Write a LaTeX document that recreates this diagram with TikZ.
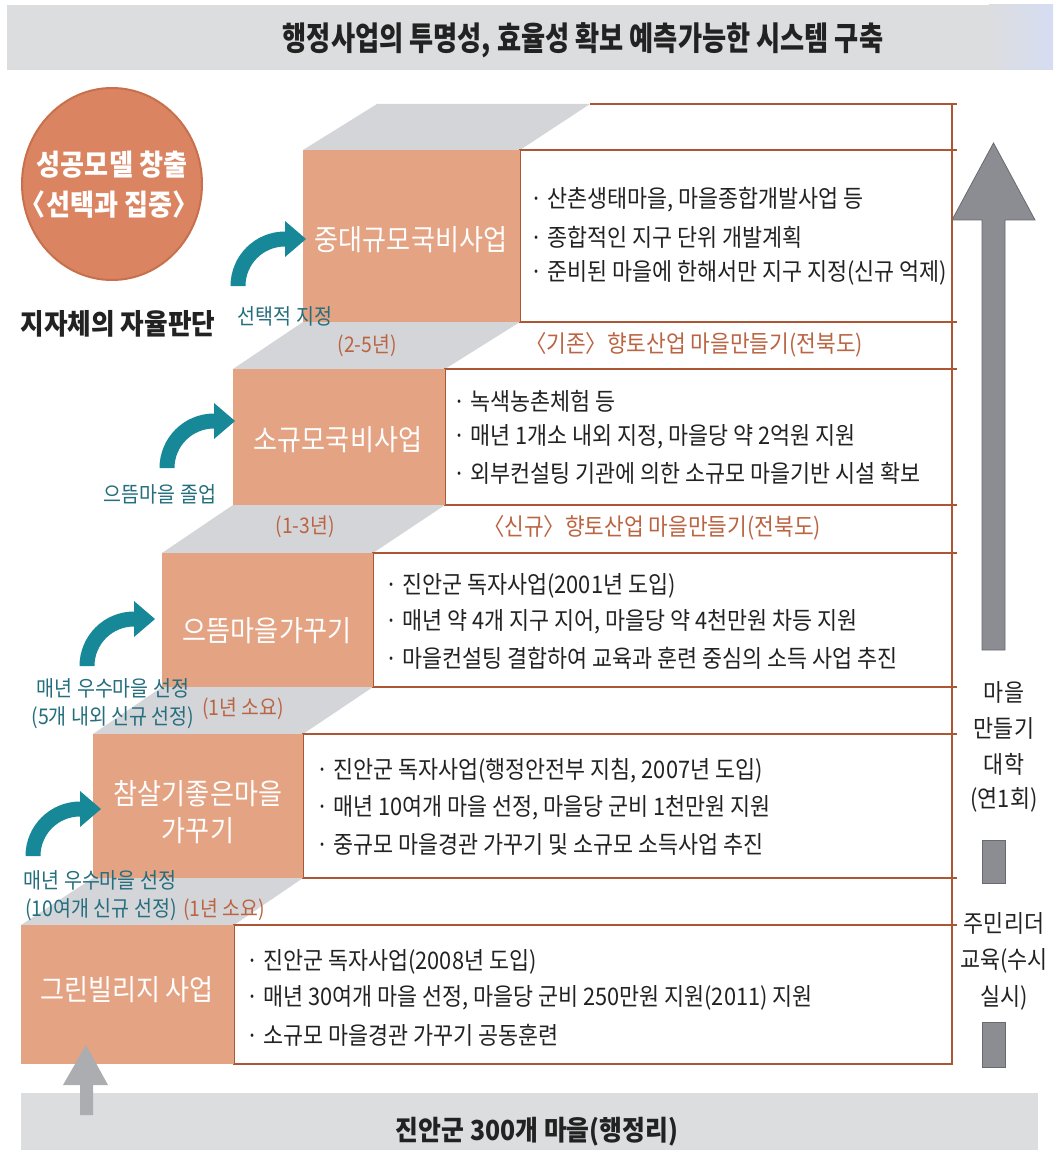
\documentclass[tikz,border=0pt]{standalone}
\usepackage{fontspec}
\setmainfont{Noto Sans CJK KR}[FakeStretch=0.9]
\newfontfamily\titlefont{Noto Sans CJK KR}[FakeStretch=0.8]
\definecolor{boxor}{RGB}{228,163,131}
\definecolor{stepgray}{RGB}{212,213,216}
\definecolor{brline}{RGB}{172,86,52}
\definecolor{brtext}{RGB}{186,100,66}
\definecolor{tealarr}{RGB}{22,136,152}
\definecolor{tealtext}{RGB}{36,110,126}
\definecolor{circfill}{RGB}{218,132,97}
\definecolor{circedge}{RGB}{200,112,78}
\definecolor{banner}{RGB}{220,221,223}
\definecolor{bigarrow}{RGB}{140,141,146}
\definecolor{bigedge}{RGB}{105,106,110}
\definecolor{smallarrow}{RGB}{172,173,177}
\definecolor{txt}{RGB}{34,34,34}
\newcommand\curvedarrow[2]{%
  \begin{scope}[shift={(#1,#2)},yscale=-1]
    \fill[tealarr] (-7.5,0) arc[start angle=180,end angle=90,radius=54.5]
      -- (47,65) -- (68,47) -- (47,29) -- (47,39.5)
      arc[start angle=90,end angle=180,radius=39.5] -- cycle;
  \end{scope}}
\tikzset{
  bodytxt/.style={anchor=west, inner sep=0pt, text=txt, font=\fontsize{24.2}{26}\selectfont},
  boxlabel/.style={inner sep=0pt, text=white, align=center, font=\fontsize{29}{37}\selectfont},
  tealtxt/.style={inner sep=0pt, text=tealtext, font=\fontsize{21.7}{24}\selectfont},
  browntxt/.style={inner sep=0pt, text=brtext, font=\fontsize{21.5}{24}\selectfont},
  brownlong/.style={inner sep=0pt, text=brtext, font=\fontsize{23.8}{26}\selectfont},
  sidetxt/.style={inner sep=0pt, text=txt, font=\fontsize{24.2}{26}\selectfont},
  stepbox/.style={fill=boxor},
  stepshade/.style={fill=stepgray},
  infobox/.style={draw=brline, line width=1.4pt, fill=white},
  brownrule/.style={draw=brline, line width=1.4pt}
}
\begin{document}
\begin{tikzpicture}[x=1pt,y=-1pt]
\useasboundingbox (0,0) rectangle (1053,1150);
% top banner
\fill[banner] (7,5) rectangle (990,70);
\shade[left color=banner, right color={rgb,255:red,214;green,221;blue,243}] (989,5) rectangle (1053,70);
\node[inner sep=0pt, text=txt, font=\titlefont\bfseries\fontsize{32.8}{34}\selectfont] (title) at (583,40) {행정사업의 투명성, 효율성 확보 예측가능한 시스템 구축};
% bottom banner
\fill[banner] (21,1093) rectangle (1038,1150);
\node[inner sep=0pt, text=txt, font=\bfseries\fontsize{27.6}{30}\selectfont] (base) at (537,1132) {진안군 300개 마을(행정리)};
% gray step tops
\fill[stepshade] (303,150) -- (520,150) -- (590,104) -- (377,104) -- cycle;
\fill[stepshade] (233,369) -- (445,369) -- (520,322) -- (303,322) -- cycle;
\fill[stepshade] (162,553) -- (373,553) -- (445,505) -- (233,505) -- cycle;
\fill[stepshade] (93,734) -- (303,734) -- (373,687) -- (162,687) -- cycle;
\fill[stepshade] (21,925) -- (234,925) -- (303,878) -- (93,878) -- cycle;
% info boxes
\draw[infobox] (520,150) rectangle (952,322);
\draw[infobox] (445,369) rectangle (952,505);
\draw[infobox] (373,553) rectangle (952,687);
\draw[infobox] (303,734) rectangle (952,878);
\draw[infobox] (234,925) rectangle (952,1064);
\draw[brownrule] (590,104) -- (957,104);
\draw[brownrule] (952,104) -- (952,1064);
\foreach \yy in {150,322,369,505,553,687,734,878,925} {\draw[brownrule] (948,\yy) -- (957,\yy);}
% orange step boxes
\fill[stepbox] (303,150) rectangle (520,322);
\fill[stepbox] (233,369) rectangle (445,505);
\fill[stepbox] (162,553) rectangle (373,687);
\fill[stepbox] (93,734) rectangle (303,878);
\fill[stepbox] (21,925) rectangle (234,1064);
\node[boxlabel] (b5) at (411,240) {중대규모국비사업};
\node[boxlabel] (b4) at (338,440) {소규모국비사업};
\node[boxlabel] (b3) at (267,631) {으뜸마을가꾸기};
\node[boxlabel] (b2) at (198,812) {참살기좋은마을\\가꾸기};
\node[boxlabel] (b1) at (127,990) {그린빌리지 사업};
% body texts
\node[bodytxt] (t51) at (530,200) {· 산촌생태마을, 마을종합개발사업 등};
\node[bodytxt] (t52) at (530,237) {· 종합적인 지구 단위 개발계획};
\node[bodytxt] (t53) at (530,273) {· 준비된 마을에 한해서만 지구 지정(신규 억제)};
\node[bodytxt] (t41) at (453,401) {· 녹색농촌체험 등};
\node[bodytxt] (t42) at (453,437) {· 매년 1개소 내외 지정, 마을당 약 2억원 지원};
\node[bodytxt] (t43) at (453,473) {· 외부컨설팅 기관에 의한 소규모 마을기반 시설 확보};
\node[bodytxt] (t31) at (385,586) {· 진안군 독자사업(2001년 도입)};
\node[bodytxt] (t32) at (385,622) {· 매년 약 4개 지구 지어, 마을당 약 4천만원 차등 지원};
\node[bodytxt] (t33) at (385,658) {· 마을컨설팅 결합하여 교육과 훈련 중심의 소득 사업 추진};
\node[bodytxt] (t21) at (316,771) {· 진안군 독자사업(행정안전부 지침, 2007년 도입)};
\node[bodytxt] (t22) at (316,808) {· 매년 10여개 마을 선정, 마을당 군비 1천만원 지원};
\node[bodytxt] (t23) at (316,844) {· 중규모 마을경관 가꾸기 및 소규모 소득사업 추진};
\node[bodytxt] (t11) at (246,962) {· 진안군 독자사업(2008년 도입)};
\node[bodytxt] (t12) at (246,998) {· 매년 30여개 마을 선정, 마을당 군비 250만원 지원(2011) 지원};
\node[bodytxt] (t13) at (246,1035) {· 소규모 마을경관 가꾸기 공동훈련};
% brown labels
\node[browntxt] (y5) at (367,346) {(2-5년)};
\node[brownlong] (old) at (694,345) {〈기존〉향토산업 마을만들기(전북도)};
\node[browntxt] (y4) at (305,527) {(1-3년)};
\node[brownlong] (new) at (652,528) {〈신규〉향토산업 마을만들기(전북도)};
\node[browntxt] (y3) at (243,709) {(1년 소요)};
\node[browntxt] (y2) at (224,910) {(1년 소요)};
% circle
\draw[fill=circfill, draw=circedge, line width=2pt] (112,184) ellipse [x radius=90, y radius=96];
\node[inner sep=0pt, text=white, align=center, font=\bfseries\fontsize{29}{40}\selectfont] (goal) at (112,185) {성공모델 창출\\\kern-0.2em〈선택과 집중〉};
\node[inner sep=0pt, text=txt, font=\bfseries\fontsize{28.5}{30}\selectfont] (auto) at (118,324) {지자체의 자율판단};
% teal curved arrows
\curvedarrow{238}{286}
\curvedarrow{167}{468}
\curvedarrow{87}{666}
\curvedarrow{33}{856}
% teal labels
\node[tealtxt] (s5) at (285,316) {선택적 지정};
\node[tealtxt] (s4) at (160,494) {으뜸마을 졸업};
\node[tealtxt] (s3a) at (113,688) {매년 우수마을 선정};
\node[tealtxt] (s3b) at (113,718) {(5개 내외 신규 선정)};
\node[tealtxt] (s2a) at (100,880) {매년 우수마을 선정};
\node[tealtxt] (s2b) at (101,910) {(10여개 신규 선정)};
% small gray up arrow
\fill[smallarrow] (80,1115) -- (80,1085) -- (63,1085) -- (86,1045) -- (108,1085) -- (93,1085) -- (93,1115) -- cycle;
% big right arrow
\filldraw[fill=bigarrow, draw=bigedge, line width=0.8pt] (982,650) -- (982,220) -- (952,220) -- (993.5,143) -- (1035,220) -- (1005,220) -- (1005,650) -- cycle;
\filldraw[fill=bigarrow, draw=bigedge, line width=0.8pt] (982,840) rectangle (1005,883);
\filldraw[fill=bigarrow, draw=bigedge, line width=0.8pt] (982,1022) rectangle (1005,1067);
\node[sidetxt] (u1) at (1004,692) {마을};
\node[sidetxt] (u2) at (1004,728) {만들기};
\node[sidetxt] (u3) at (1004,764) {대학};
\node[sidetxt] (u4) at (1004,800) {(연1회)};
\node[sidetxt] (r1) at (1004,923) {주민리더};
\node[sidetxt] (r2) at (1004,961) {교육(수시};
\node[sidetxt] (r3) at (1004,998) {실시)};
\end{tikzpicture}
\end{document}
